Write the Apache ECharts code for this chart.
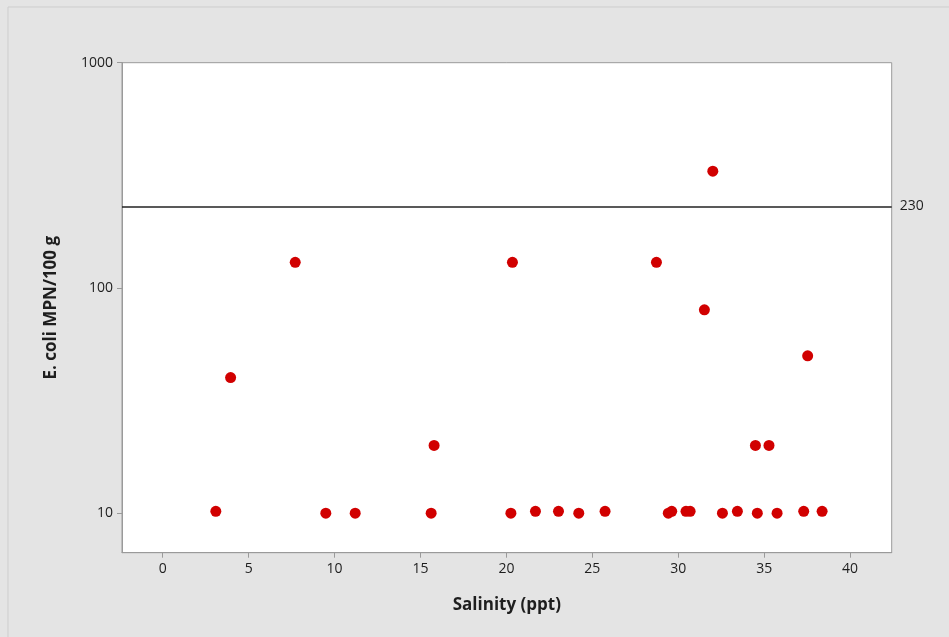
<!DOCTYPE html>
<html>
<head>
<meta charset="utf-8">
<script src="https://cdn.jsdelivr.net/npm/echarts@6/dist/echarts.min.js"></script>
<style>
  html, body { margin: 0; padding: 0; background: #e4e4e4; }
  #chart { width: 949px; height: 637px; }
</style>
</head>
<body>
<div id="chart"></div>
<script>
// Salinity (ppt) of each sample
const salinity = [3.09, 3.95, 7.71, 9.49, 11.20, 15.62, 15.79, 20.26, 20.35, 21.69,
                  23.03, 24.21, 25.74, 28.73, 29.42, 29.62, 30.45, 30.69, 31.52, 32.01,
                  32.57, 33.44, 34.49, 34.60, 35.28, 35.75, 37.30, 37.53, 38.37];
// E. coli MPN/100 g of each sample
const ecoli = [10.2, 40, 130, 10, 10, 10, 20, 10, 130, 10.2,
               10.2, 10, 10.2, 130, 10, 10.2, 10.2, 10.2, 80, 330,
               10, 10.2, 20, 10, 20, 10, 10.2, 50, 10.2];
// Axis ticks
const xTicks = [0, 5, 10, 15, 20, 25, 30, 35, 40];
const yTicks = [10, 100, 1000];
// Reference limit
const limit = 230;

const points = salinity.map((s, i) => [s, ecoli[i]]);

const chart = echarts.init(document.getElementById('chart'));
const font = '"Open Sans", "Noto Sans", sans-serif';
const textColor = '#1e1e1e';
chart.setOption({
  backgroundColor: '#e4e4e4',
  animation: false,
  graphic: [{
    type: 'rect',
    shape: { x: 8, y: 7, width: 1000, height: 700 },
    style: { fill: 'none', stroke: '#cdcdcd', lineWidth: 1 },
    z: -1
  }],
  grid: {
    left: 122, top: 62.7, right: 57.3, bottom: 84.3,
    show: true, backgroundColor: '#ffffff', borderColor: '#9a9a9a', borderWidth: 1
  },
  xAxis: {
    type: 'value',
    min: -2.37, max: 42.42,
    name: 'Salinity (ppt)',
    nameLocation: 'middle',
    nameGap: 44,
    nameTextStyle: { fontFamily: font, fontSize: 17, fontWeight: 'bold', color: textColor },
    axisLine: { show: true, onZero: false, lineStyle: { color: '#9a9a9a' } },
    axisTick: { show: true, length: 5, customValues: xTicks, lineStyle: { color: '#9a9a9a' } },
    axisLabel: { customValues: xTicks, fontFamily: font, fontSize: 14, color: textColor, margin: 9 },
    splitLine: { show: false }
  },
  yAxis: {
    type: 'log',
    logBase: 10,
    min: 6.68, max: 1000,
    name: 'E. coli MPN/100 g',
    nameLocation: 'middle',
    nameGap: 62,
    nameTextStyle: { fontFamily: font, fontSize: 17, fontWeight: 'bold', color: textColor },
    axisLine: { show: true, onZero: false, lineStyle: { color: '#9a9a9a' } },
    axisTick: { show: true, length: 5, customValues: yTicks, lineStyle: { color: '#9a9a9a' } },
    axisLabel: {
      customValues: yTicks, fontFamily: font, fontSize: 14, color: textColor, margin: 9,
      formatter: v => String(Math.round(v))
    },
    splitLine: { show: false }
  },
  series: [{
    type: 'scatter',
    data: points,
    symbol: 'circle',
    symbolSize: 11,
    itemStyle: { color: '#d10000', opacity: 1 },
    markLine: {
      silent: true,
      symbol: ['none', 'none'],
      lineStyle: { color: '#222', width: 1.5, type: 'solid' },
      label: {
        show: true, position: 'end', distance: 8,
        formatter: String(limit),
        fontFamily: font, fontSize: 14, color: textColor
      },
      data: [{ yAxis: limit }]
    }
  }]
});
</script>
</body>
</html>
